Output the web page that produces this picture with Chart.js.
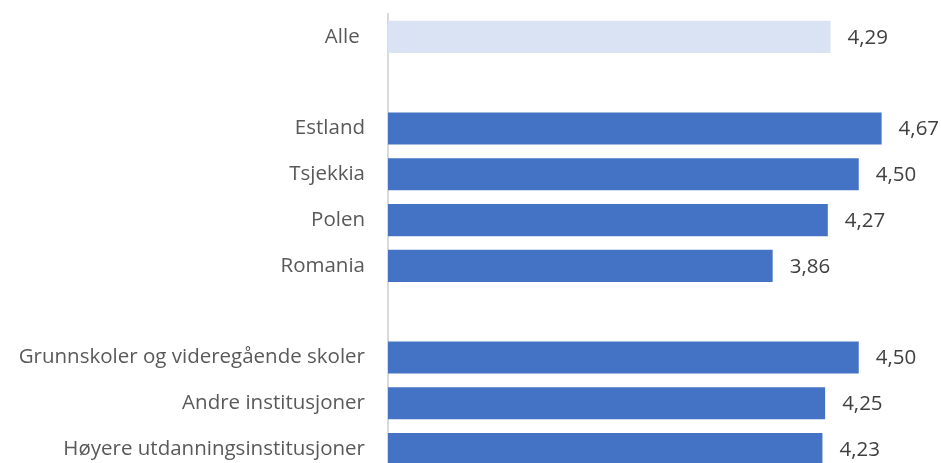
<!DOCTYPE html>
<html>
<head>
<meta charset="utf-8">
<script src="https://cdn.jsdelivr.net/npm/chart.js@4.4.1/dist/chart.umd.min.js"></script>
<style>
  html, body { margin: 0; padding: 0; background: #fff; overflow: hidden; }
  #wrap { width: 941px; height: 463px; overflow: hidden; }
</style>
</head>
<body>
<div id="wrap"><canvas id="chart" width="941" height="480"></canvas></div>
<script>
const categories = [
  'Alle ', '',
  'Estland', 'Tsjekkia', 'Polen', 'Romania', '',
  'Grunnskoler og videregående skoler', 'Andre institusjoner', 'Høyere utdanningsinstitusjoner'
];
const values = [4.29, null, 4.67, 4.50, 4.27, 3.86, null, 4.50, 4.25, 4.23];
const barColors = ['#dae3f3', null, '#4472c4', '#4472c4', '#4472c4', '#4472c4', null, '#4472c4', '#4472c4', '#4472c4'];

const fontFamily = '"Open Sans", "Noto Sans", sans-serif';

// draws "4,29" style labels to the right of each bar
const valueLabels = {
  id: 'valueLabels',
  afterDatasetsDraw(chart) {
    const { ctx } = chart;
    const meta = chart.getDatasetMeta(0);
    ctx.save();
    ctx.font = `20.5px ${fontFamily}`;
    ctx.fillStyle = '#404040';
    ctx.textAlign = 'left';
    ctx.textBaseline = 'middle';
    meta.data.forEach((bar, i) => {
      if (values[i] == null) return;
      ctx.fillText(values[i].toFixed(2).replace('.', ','), bar.x + 17, bar.y + 1);
    });
    ctx.restore();
  }
};

new Chart(document.getElementById('chart'), {
  type: 'bar',
  data: {
    labels: categories,
    datasets: [{
      data: values,
      backgroundColor: barColors,
      barPercentage: 0.7,
      categoryPercentage: 1,
    }],
  },
  options: {
    indexAxis: 'y',
    responsive: false,
    animation: false,
    layout: { padding: { top: 14, bottom: 8, right: 15, left: 0 } },
    plugins: { legend: { display: false }, tooltip: { enabled: false } },
    scales: {
      x: { min: 1, max: 5, display: false },
      y: {
        grid: { display: false, drawTicks: false },
        border: { display: true, color: '#d9d9d9', width: 2 },
        ticks: { color: '#595959', font: { family: fontFamily, size: 20.5 }, padding: 23 },
        afterFit(scale) {
          scale.width = 388;
          scale.paddingTop = 0;
          scale.paddingBottom = 0;
        },
      },
    },
  },
  plugins: [valueLabels],
});
</script>
</body>
</html>
